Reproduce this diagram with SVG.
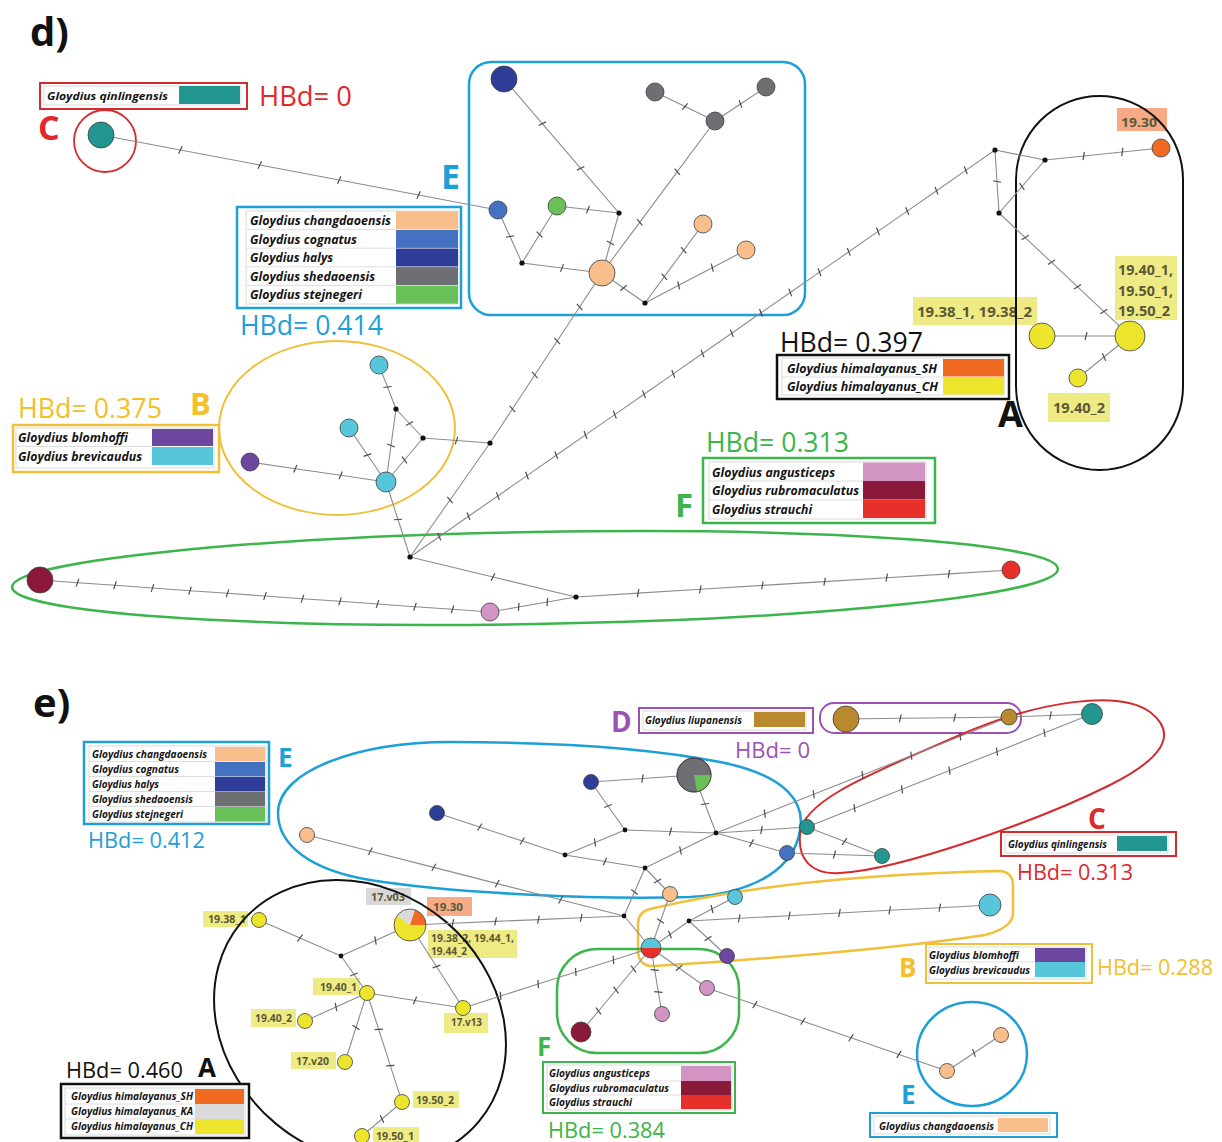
<svg xmlns="http://www.w3.org/2000/svg" width="1222" height="1142" viewBox="0 0 1222 1142">
<defs>
<marker id="tick" viewBox="-5 -5 10 10" markerWidth="10" markerHeight="10" refX="0" refY="0" orient="auto" markerUnits="userSpaceOnUse">
<line x1="-1" y1="4" x2="1" y2="-4" stroke="#4d4d4d" stroke-width="1.2"/>
</marker>
</defs>
<style>
.ed{fill:none;stroke:#8c8c8c;stroke-width:1.1;marker-mid:url(#tick)}
.md{fill:#111}
.nd{stroke:#3d3d3d;stroke-width:0.8}
.cl{fill:none}
.lb{fill:#fff}
.tb{fill:#fff;stroke:#cfcfcf;stroke-width:0.8}
.sep{stroke:#d6d6d6;stroke-width:0.8}
.lg{font-family:"Open Sans","Liberation Sans",sans-serif;font-weight:700;font-style:italic;fill:#141414}
.hb{font-family:"Open Sans","Liberation Sans",sans-serif;font-weight:400}
.lt{font-family:"Open Sans","Liberation Sans",sans-serif;font-weight:700}
.tg{font-family:"Open Sans","Liberation Sans",sans-serif;font-weight:700;fill:#5b5836}
.ty{fill:#efeb84}
.to{fill:#f6ab86}
.tgr{fill:#d8d8d8}
.c-teal{fill:#22968f}.c-peach{fill:#f8bf8d}.c-cog{fill:#4571c1}.c-hal{fill:#2e3d98}.c-gray{fill:#6e6f73}.c-ste{fill:#69bf58}.c-cyan{fill:#58c6da}.c-pur{fill:#6b47a0}.c-pink{fill:#d295c3}.c-dred{fill:#8b1a3a}.c-red{fill:#e8302a}.c-org{fill:#f06a21}.c-yel{fill:#ece52b}.c-gold{fill:#b8892d}.c-ka{fill:#dadada}
.k-red{stroke:#d42b2f}.k-blue{stroke:#1d9fd8}.k-gold{stroke:#f0c03a}.k-green{stroke:#3cb54a}.k-blk{stroke:#111}.k-pur{stroke:#9b52b4}
.f-red{fill:#e0282d}.f-blue{fill:#1d9fd8}.f-gold{fill:#f3bf2a}.f-green{fill:#3cb54a}.f-blk{fill:#111}.f-pur{fill:#9b52b4}
</style>
<rect width="1222" height="1142" fill="#fff"/>

<!-- ============ number tags ============ -->
<g id="tags">
<rect x="1117" y="108" width="50" height="23" class="to"/>
<text x="1121" y="127" class="tg" font-size="13" textLength="36" lengthAdjust="spacingAndGlyphs">19.30</text>
<rect x="1115" y="256" width="62" height="64" class="ty"/>
<text x="1118" y="275" class="tg" font-size="13.5" textLength="55" lengthAdjust="spacingAndGlyphs">19.40_1,</text>
<text x="1118" y="296" class="tg" font-size="13.5" textLength="55" lengthAdjust="spacingAndGlyphs">19.50_1,</text>
<text x="1118" y="316" class="tg" font-size="13.5" textLength="52" lengthAdjust="spacingAndGlyphs">19.50_2</text>
<rect x="913" y="297" width="124" height="28" class="ty"/>
<text x="917" y="317" class="tg" font-size="13.5" textLength="115" lengthAdjust="spacingAndGlyphs">19.38_1, 19.38_2</text>
<rect x="1048" y="393" width="62" height="29" class="ty"/>
<text x="1053" y="413" class="tg" font-size="13.5" textLength="52" lengthAdjust="spacingAndGlyphs">19.40_2</text>

<rect x="366" y="888" width="45" height="17" class="tgr"/>
<text x="371" y="901" class="tg" font-size="10.5" textLength="34" lengthAdjust="spacingAndGlyphs">17.v03</text>
<rect x="427" y="897" width="45" height="19" class="to"/>
<text x="433" y="911" class="tg" font-size="10.5" textLength="30" lengthAdjust="spacingAndGlyphs">19.30</text>
<rect x="428" y="930" width="89" height="28" class="ty"/>
<text x="431" y="942" class="tg" font-size="10.5" textLength="83" lengthAdjust="spacingAndGlyphs">19.38_2, 19.44_1,</text>
<text x="431" y="955" class="tg" font-size="10.5" textLength="36" lengthAdjust="spacingAndGlyphs">19.44_2</text>
<rect x="203" y="911" width="45" height="16" class="ty"/>
<text x="208" y="923" class="tg" font-size="10.5" textLength="38" lengthAdjust="spacingAndGlyphs">19.38_1</text>
<rect x="313" y="978" width="47" height="17" class="ty"/>
<text x="320" y="991" class="tg" font-size="10.5" textLength="37" lengthAdjust="spacingAndGlyphs">19.40_1</text>
<rect x="251" y="1009" width="45" height="18" class="ty"/>
<text x="255" y="1022" class="tg" font-size="10.5" textLength="37" lengthAdjust="spacingAndGlyphs">19.40_2</text>
<rect x="444" y="1013" width="44" height="20" class="ty"/>
<text x="451" y="1026" class="tg" font-size="10.5" textLength="31" lengthAdjust="spacingAndGlyphs">17.v13</text>
<rect x="291" y="1052" width="45" height="17" class="ty"/>
<text x="296" y="1065" class="tg" font-size="10.5" textLength="33" lengthAdjust="spacingAndGlyphs">17.v20</text>
<rect x="413" y="1091" width="46" height="17" class="ty"/>
<text x="416" y="1104" class="tg" font-size="10.5" textLength="38" lengthAdjust="spacingAndGlyphs">19.50_2</text>
<rect x="373" y="1127" width="46" height="15" class="ty"/>
<text x="376" y="1140" class="tg" font-size="10.5" textLength="38" lengthAdjust="spacingAndGlyphs">19.50_1</text>
</g>

<!-- ============ cluster outlines ============ -->
<g id="clusters" class="cl">
<circle id="d-C-outline" cx="105" cy="141" r="31" class="k-red" stroke-width="1.8" fill="none"/>
<rect id="d-E-outline" x="469" y="62" width="336" height="253" rx="22" class="k-blue" stroke-width="2.5" fill="none"/>
<rect id="d-A-outline" x="1016" y="96" width="167" height="374" rx="83.5" class="k-blk" stroke-width="2" fill="none"/>
<ellipse id="d-B-outline" cx="337" cy="428" rx="118" ry="87" class="k-gold" stroke-width="2" fill="none"/>
<ellipse id="d-F-outline" cx="535" cy="578" rx="523" ry="46" transform="rotate(-1 535 578)" class="k-green" stroke-width="2.5" fill="none"/>

<path id="e-E-outline" d="M278,813 C278,770 360,742 450,742 C560,742 650,748 720,762 C790,776 805,805 800,830 C795,865 760,893 690,897 C600,900 450,893 370,880 C310,870 278,845 278,813 Z" class="k-blue" stroke-width="2.5" fill="none"/>
<rect id="e-D-outline" x="820" y="703" width="201" height="30" rx="14" class="k-pur" stroke-width="2" fill="none"/>
<path id="e-C-outline" d="M800,835 C800,800 880,770 960,735 C1040,700 1120,690 1150,712 C1180,735 1160,760 1110,785 C1040,820 900,870 840,873 C810,875 798,858 800,835 Z" class="k-red" stroke-width="2" fill="none"/>
<path id="e-B-outline" d="M650,909 C720,893 820,875 998,871 Q1013,871 1013,886 L1013,914 Q1012,928 985,935 C900,948 780,958 655,966 Q638,967 638,950 L638,924 Q638,912 650,909 Z" class="k-gold" stroke-width="2.5" fill="none"/>
<rect id="e-F-outline" x="557" y="949" width="182" height="104" rx="40" class="k-green" stroke-width="2.5" fill="none"/>
<ellipse id="e-A-outline" cx="360" cy="1022" rx="155" ry="132" transform="rotate(40 360 1022)" class="k-blk" stroke-width="2" fill="none"/>
<ellipse id="e-E2-outline" cx="972" cy="1054" rx="55" ry="52" class="k-blue" stroke-width="2.5" fill="none"/>
</g>

<!-- ============ connectors ============ -->
<g id="connectors">
<polyline class="ed" points="101,135 180.4,150 259.8,165 339.2,180 418.6,195 498,210"/>
<polyline class="ed" points="504,79 542.3,123.7 580.7,168.3 619,213"/>
<polyline class="ed" points="557,206 588,209.5 619,213"/>
<polyline class="ed" points="619,213 610.5,243 602,273"/>
<polyline class="ed" points="498,210 510,236.5 522,263"/>
<polyline class="ed" points="557,206 539.5,234.5 522,263"/>
<polyline class="ed" points="522,263 562,268 602,273"/>
<polyline class="ed" points="602,273 639.7,222.3 677.3,171.7 715,121"/>
<polyline class="ed" points="715,121 685,106.5 655,92"/>
<polyline class="ed" points="715,121 740.5,104 766,87"/>
<polyline class="ed" points="602,273 623.5,288 645,303"/>
<polyline class="ed" points="645,303 664.3,276.7 683.7,250.3 703,224"/>
<polyline class="ed" points="645,303 678.7,285.3 712.3,267.7 746,250"/>
<polyline class="ed" points="602,273 579.6,307 557.2,341 534.8,375 512.4,409 490,443"/>
<polyline class="ed" points="490,443 450,500 410,557"/>
<polyline class="ed" points="410,557 439.3,536.7 468.5,516.3 497.8,496 527,475.6 556.3,455.3 585.5,434.9 614.8,414.6 644,394.2 673.3,373.9 702.5,353.5 731.8,333.2 761,312.8 790.3,292.5 819.5,272.1 848.8,251.8 878,231.4 907.3,211.1 936.5,190.7 965.8,170.4 995,150"/>
<polyline class="ed" points="995,150 1020,155 1045,160"/>
<polyline class="ed" points="995,150 997,181.5 999,213"/>
<polyline class="ed" points="1045,160 1022,186.5 999,213"/>
<polyline class="ed" points="1045,160 1083.7,156 1122.3,152 1161,148"/>
<polyline class="ed" points="999,213 1025.2,237.6 1051.4,262.2 1077.6,286.8 1103.8,311.4 1130,336"/>
<polyline class="ed" points="1042,336 1086,336 1130,336"/>
<polyline class="ed" points="1078,378 1104,357 1130,336"/>
<polyline class="ed" points="379,365 387.5,387 396,409"/>
<polyline class="ed" points="396,409 409.5,423.5 423,438"/>
<polyline class="ed" points="396,409 391,445.5 386,482"/>
<polyline class="ed" points="423,438 404.5,460 386,482"/>
<polyline class="ed" points="349,428 367.5,455 386,482"/>
<polyline class="ed" points="250,462 295.3,468.7 340.7,475.3 386,482"/>
<polyline class="ed" points="423,438 456.5,440.5 490,443"/>
<polyline class="ed" points="386,482 398,519.5 410,557"/>
<polyline class="ed" points="40,580 77.5,582.7 115,585.3 152.5,588 190,590.7 227.5,593.3 265,596 302.5,598.7 340,601.3 377.5,604 415,606.7 452.5,609.3 490,612"/>
<polyline class="ed" points="490,612 518.7,607 547.3,602 576,597"/>
<polyline class="ed" points="410,557 493,577 576,597"/>
<polyline class="ed" points="576,597 638.1,593.1 700.3,589.3 762.4,585.4 824.6,581.6 886.7,577.7 948.9,573.9 1011,570"/>

<polyline class="ed" points="591,782 642.5,778.5 694,775"/>
<polyline class="ed" points="591,782 608,806 625,830"/>
<polyline class="ed" points="694,775 705,804 716,833"/>
<polyline class="ed" points="625,830 670.5,831.5 716,833"/>
<polyline class="ed" points="625,830 595,842.5 565,855"/>
<polyline class="ed" points="437,813 479.7,827 522.3,841 565,855"/>
<polyline class="ed" points="565,855 605,861.5 645,868"/>
<polyline class="ed" points="645,868 680.5,850.5 716,833"/>
<polyline class="ed" points="716,833 761.5,830 807,827"/>
<polyline class="ed" points="716,833 751.5,843 787,853"/>
<polyline class="ed" points="716,833 764.8,813.7 813.7,794.3 862.5,775 911.3,755.7 960.2,736.3 1009,717"/>
<polyline class="ed" points="846,719 900.3,718.3 954.7,717.7 1009,717"/>
<polyline class="ed" points="1009,717 1050.5,715.5 1092,714"/>
<polyline class="ed" points="807,827 854.5,808.2 902,789.3 949.5,770.5 997,751.7 1044.5,732.8 1092,714"/>
<polyline class="ed" points="807,827 844.5,841.5 882,856"/>
<polyline class="ed" points="787,853 834.5,854.5 882,856"/>
<polyline class="ed" points="645,868 657.5,881 670,894"/>
<polyline class="ed" points="645,868 634.5,892 624,916"/>
<polyline class="ed" points="624,916 651,948"/>
<polyline class="ed" points="410,925 452.8,923.2 495.6,921.4 538.4,919.6 581.2,917.8 624,916"/>
<polyline class="ed" points="307,835 370.4,851.2 433.8,867.4 497.2,883.6 560.6,899.8 624,916"/>
<polyline class="ed" points="670,894 660.5,921 651,948"/>
<polyline class="ed" points="689,921 670,934.5 651,948"/>
<polyline class="ed" points="689,921 712,909 735,897"/>
<polyline class="ed" points="689,921 708,938.5 727,956"/>
<polyline class="ed" points="689,921 739.2,918.3 789.3,915.7 839.5,913 889.7,910.3 939.8,907.7 990,905"/>
<polyline class="ed" points="651,948 679,968 707,988"/>
<polyline class="ed" points="651,948 654.7,970 658.3,992 662,1014"/>
<polyline class="ed" points="651,948 633.5,969 616,990 598.5,1011 581,1032"/>
<polyline class="ed" points="463,1008 500.6,996 538.2,984 575.8,972 613.4,960 651,948"/>
<polyline class="ed" points="707,988 755,1004.6 803,1021.2 851,1037.8 899,1054.4 947,1071"/>
<polyline class="ed" points="947,1071 974,1053 1001,1035"/>
<polyline class="ed" points="259,920 300,938 341,956"/>
<polyline class="ed" points="410,925 375.5,940.5 341,956"/>
<polyline class="ed" points="341,956 354,974.5 367,993"/>
<polyline class="ed" points="410,925 436.5,966.5 463,1008"/>
<polyline class="ed" points="367,993 415,1000.5 463,1008"/>
<polyline class="ed" points="367,993 336,1007 305,1021"/>
<polyline class="ed" points="367,993 356,1027.5 345,1062"/>
<polyline class="ed" points="367,993 378.7,1029.3 390.3,1065.7 402,1102"/>
<polyline class="ed" points="402,1102 382,1119 362,1136"/>
</g>

<!-- ============ median vectors ============ -->
<g id="medians" class="md">
<circle cx="619" cy="213" r="2.6"/><circle cx="522" cy="263" r="2.6"/><circle cx="645" cy="303" r="2.6"/>
<circle cx="396" cy="409" r="2.6"/><circle cx="423" cy="438" r="2.6"/><circle cx="490" cy="443" r="2.6"/>
<circle cx="410" cy="557" r="2.6"/><circle cx="576" cy="597" r="2.6"/>
<circle cx="995" cy="150" r="2.6"/><circle cx="1045" cy="160" r="2.6"/><circle cx="999" cy="213" r="2.6"/>
<circle cx="625" cy="830" r="2.4"/><circle cx="716" cy="833" r="2.4"/><circle cx="565" cy="855" r="2.4"/>
<circle cx="645" cy="868" r="2.4"/><circle cx="624" cy="916" r="2.4"/><circle cx="689" cy="921" r="2.4"/>
<circle cx="341" cy="956" r="2.4"/>
</g>

<!-- ============ haplotype nodes (d) ============ -->
<g id="d-nodes">
<g id="d-qinlingensis"><circle cx="101" cy="135" r="13" class="nd c-teal"/></g>
<g id="d-halys"><circle cx="504" cy="79" r="13" class="nd c-hal"/></g>
<g id="d-shedao-1"><circle cx="655" cy="92" r="9" class="nd c-gray"/></g>
<g id="d-shedao-2"><circle cx="766" cy="87" r="9" class="nd c-gray"/></g>
<g id="d-shedao-3"><circle cx="715" cy="121" r="9" class="nd c-gray"/></g>
<g id="d-cognatus"><circle cx="498" cy="210" r="9" class="nd c-cog"/></g>
<g id="d-stejnegeri"><circle cx="557" cy="206" r="9" class="nd c-ste"/></g>
<g id="d-changdao-1"><circle cx="602" cy="273" r="13" class="nd c-peach"/></g>
<g id="d-changdao-2"><circle cx="703" cy="224" r="9" class="nd c-peach"/></g>
<g id="d-changdao-3"><circle cx="746" cy="250" r="9" class="nd c-peach"/></g>
<g id="d-SH-1930"><circle cx="1161" cy="148" r="9" class="nd c-org"/></g>
<g id="d-CH-1940-1"><circle cx="1130" cy="336" r="15" class="nd c-yel"/></g>
<g id="d-CH-1938"><circle cx="1042" cy="336" r="13" class="nd c-yel"/></g>
<g id="d-CH-1940-2"><circle cx="1078" cy="378" r="9" class="nd c-yel"/></g>
<g id="d-brevi-1"><circle cx="379" cy="365" r="9" class="nd c-cyan"/></g>
<g id="d-brevi-2"><circle cx="349" cy="428" r="9" class="nd c-cyan"/></g>
<g id="d-brevi-3"><circle cx="386" cy="482" r="10" class="nd c-cyan"/></g>
<g id="d-blomhoffi"><circle cx="250" cy="462" r="9" class="nd c-pur"/></g>
<g id="d-rubromaculatus"><circle cx="40" cy="580" r="13" class="nd c-dred"/></g>
<g id="d-angusticeps"><circle cx="490" cy="612" r="9" class="nd c-pink"/></g>
<g id="d-strauchi"><circle cx="1011" cy="570" r="9" class="nd c-red"/></g>
</g>

<!-- ============ haplotype nodes (e) ============ -->
<g id="e-nodes">
<g id="e-halys-1"><circle cx="591" cy="782" r="7.5" class="nd c-hal"/></g>
<g id="e-halys-2"><circle cx="437" cy="813" r="7.5" class="nd c-hal"/></g>
<g id="e-shedao-pie">
<circle cx="694" cy="775" r="17" class="nd c-gray"/>
<path d="M694,775 L711,775 A17,17 0 0,1 696.95,791.74 Z" class="c-ste"/>
<circle cx="694" cy="775" r="17" fill="none" class="nd"/>
</g>
<g id="e-changdao-1"><circle cx="307" cy="835" r="7.5" class="nd c-peach"/></g>
<g id="e-qinling-1"><circle cx="807" cy="827" r="7.5" class="nd c-teal"/></g>
<g id="e-cognatus"><circle cx="787" cy="853" r="7.5" class="nd c-cog"/></g>
<g id="e-qinling-2"><circle cx="882" cy="856" r="7.5" class="nd c-teal"/></g>
<g id="e-qinling-3"><circle cx="1092" cy="714" r="10.5" class="nd c-teal"/></g>
<g id="e-liupan-1"><circle cx="846" cy="719" r="13" class="nd c-gold"/></g>
<g id="e-liupan-2"><circle cx="1009" cy="717" r="8" class="nd c-gold"/></g>
<g id="e-changdao-2"><circle cx="670" cy="894" r="7.5" class="nd c-peach"/></g>
<g id="e-brevi-1"><circle cx="735" cy="897" r="7.5" class="nd c-cyan"/></g>
<g id="e-pie-F">
<path d="M641,948 A10,10 0 0,1 661,948 Z" class="c-cyan"/>
<path d="M641,948 A10,10 0 0,0 661,948 Z" class="c-red"/>
<circle cx="651" cy="948" r="10" fill="none" class="nd"/>
</g>
<g id="e-blomhoffi"><circle cx="727" cy="956" r="7.5" class="nd c-pur"/></g>
<g id="e-angusti-1"><circle cx="707" cy="988" r="7.5" class="nd c-pink"/></g>
<g id="e-angusti-2"><circle cx="662" cy="1014" r="7.5" class="nd c-pink"/></g>
<g id="e-rubromaculatus"><circle cx="581" cy="1032" r="10" class="nd c-dred"/></g>
<g id="e-brevi-2"><circle cx="990" cy="905" r="11" class="nd c-cyan"/></g>
<g id="e-changdao-3"><circle cx="947" cy="1071" r="7.5" class="nd c-peach"/></g>
<g id="e-changdao-4"><circle cx="1001" cy="1035" r="7.5" class="nd c-peach"/></g>
<g id="e-pie-A">
<path d="M410,925 L426,925 A16,16 0 1,1 397.06,915.6 Z" class="c-yel"/>
<path d="M410,925 L397.06,915.6 A16,16 0 0,1 414.94,909.78 Z" class="c-ka"/>
<path d="M410,925 L414.94,909.78 A16,16 0 0,1 426,925 Z" class="c-org"/>
<circle cx="410" cy="925" r="16" fill="none" class="nd"/>
</g>
<g id="e-1938-1"><circle cx="259" cy="920" r="7.5" class="nd c-yel"/></g>
<g id="e-1940-1"><circle cx="367" cy="993" r="7.5" class="nd c-yel"/></g>
<g id="e-1940-2"><circle cx="305" cy="1021" r="7.5" class="nd c-yel"/></g>
<g id="e-17v13"><circle cx="463" cy="1008" r="7.5" class="nd c-yel"/></g>
<g id="e-17v20"><circle cx="345" cy="1062" r="7.5" class="nd c-yel"/></g>
<g id="e-1950-2"><circle cx="402" cy="1102" r="7.5" class="nd c-yel"/></g>
<g id="e-1950-1"><circle cx="362" cy="1136" r="7.5" class="nd c-yel"/></g>
</g>

<!-- ============ panel labels & HBd ============ -->
<g id="labels">
<text x="30" y="46" class="lt f-blk" font-size="40">d)</text>
<text x="33" y="717" class="lt f-blk" font-size="40">e)</text>

<text x="38" y="140" class="lt f-red" font-size="34">C</text>
<text x="259" y="106" class="hb f-red" font-size="27" textLength="93" lengthAdjust="spacingAndGlyphs">HBd= 0</text>
<text x="441" y="189" class="lt f-blue" font-size="34">E</text>
<text x="240" y="335" class="hb f-blue" font-size="27" textLength="143" lengthAdjust="spacingAndGlyphs">HBd= 0.414</text>
<text x="780" y="352" class="hb f-blk" font-size="27" textLength="143" lengthAdjust="spacingAndGlyphs">HBd= 0.397</text>
<text x="998" y="427" class="lt f-blk" font-size="36">A</text>
<text x="18" y="418" class="hb f-gold" font-size="27" textLength="144" lengthAdjust="spacingAndGlyphs">HBd= 0.375</text>
<text x="190" y="415" class="lt f-gold" font-size="31">B</text>
<text x="706" y="452" class="hb f-green" font-size="27" textLength="143" lengthAdjust="spacingAndGlyphs">HBd= 0.313</text>
<text x="675" y="517" class="lt f-green" font-size="33">F</text>

<text x="278" y="767" class="lt f-blue" font-size="26">E</text>
<text x="88" y="848" class="hb f-blue" font-size="22" textLength="117" lengthAdjust="spacingAndGlyphs">HBd= 0.412</text>
<text x="611" y="732" class="lt f-pur" font-size="28">D</text>
<text x="735" y="758" class="hb f-pur" font-size="22" textLength="75" lengthAdjust="spacingAndGlyphs">HBd= 0</text>
<text x="1088" y="829" class="lt f-red" font-size="28">C</text>
<text x="1017" y="880" class="hb f-red" font-size="22" textLength="116" lengthAdjust="spacingAndGlyphs">HBd= 0.313</text>
<text x="899" y="977" class="lt f-gold" font-size="26">B</text>
<text x="1097" y="975" class="hb f-gold" font-size="22" textLength="116" lengthAdjust="spacingAndGlyphs">HBd= 0.288</text>
<text x="537" y="1056" class="lt f-green" font-size="26">F</text>
<text x="548" y="1138" class="hb f-green" font-size="22" textLength="117" lengthAdjust="spacingAndGlyphs">HBd= 0.384</text>
<text x="198" y="1077" class="lt f-blk" font-size="26">A</text>
<text x="66" y="1078" class="hb f-blk" font-size="22" textLength="117" lengthAdjust="spacingAndGlyphs">HBd= 0.460</text>
<text x="901" y="1104" class="lt f-blue" font-size="26">E</text>
</g>

<!-- ============ legends (d) ============ -->
<g id="legend-d-C">
<rect x="40" y="83" width="207" height="26" class="lb k-red" stroke-width="2"/>
<rect x="44" y="86" width="197" height="19" class="tb"/>
<rect x="179" y="86" width="61" height="18" class="c-teal"/>
<text x="47" y="100" class="lg" font-size="11" textLength="121" lengthAdjust="spacingAndGlyphs">Gloydius qinlingensis</text>
</g>
<g id="legend-d-E">
<rect x="237" y="207" width="224" height="101" class="lb k-blue" stroke-width="2.5"/>
<rect x="246" y="211" width="212" height="93" class="tb"/>
<line x1="246" y1="229.6" x2="396" y2="229.6" class="sep"/><line x1="246" y1="248.2" x2="396" y2="248.2" class="sep"/><line x1="246" y1="266.8" x2="396" y2="266.8" class="sep"/><line x1="246" y1="285.4" x2="396" y2="285.4" class="sep"/>
<rect x="396" y="211.3" width="62" height="18" class="c-peach"/>
<rect x="396" y="229.9" width="62" height="18" class="c-cog"/>
<rect x="396" y="248.5" width="62" height="18" class="c-hal"/>
<rect x="396" y="267.1" width="62" height="18" class="c-gray"/>
<rect x="396" y="285.7" width="62" height="18" class="c-ste"/>
<text x="250" y="225" class="lg" font-size="12" textLength="141" lengthAdjust="spacingAndGlyphs">Gloydius changdaoensis</text>
<text x="250" y="243.6" class="lg" font-size="12" textLength="107" lengthAdjust="spacingAndGlyphs">Gloydius cognatus</text>
<text x="250" y="262.2" class="lg" font-size="12" textLength="83" lengthAdjust="spacingAndGlyphs">Gloydius halys</text>
<text x="250" y="280.8" class="lg" font-size="12" textLength="125" lengthAdjust="spacingAndGlyphs">Gloydius shedaoensis</text>
<text x="250" y="299.4" class="lg" font-size="12" textLength="112" lengthAdjust="spacingAndGlyphs">Gloydius stejnegeri</text>
</g>
<g id="legend-d-A">
<rect x="777" y="355" width="232" height="44" class="lb k-blk" stroke-width="2.5"/>
<rect x="782" y="358" width="222" height="37" class="tb"/>
<line x1="782" y1="377" x2="943" y2="377" class="sep"/>
<rect x="943" y="359" width="61" height="17.5" class="c-org"/>
<rect x="943" y="377" width="61" height="17.5" class="c-yel"/>
<text x="787" y="373" class="lg" font-size="11.5" textLength="150" lengthAdjust="spacingAndGlyphs">Gloydius himalayanus_SH</text>
<text x="787" y="391" class="lg" font-size="11.5" textLength="151" lengthAdjust="spacingAndGlyphs">Gloydius himalayanus_CH</text>
</g>
<g id="legend-d-B">
<rect x="13" y="425" width="206" height="47" class="lb k-gold" stroke-width="2.5"/>
<rect x="16" y="428" width="198" height="40" class="tb"/>
<line x1="16" y1="446.5" x2="152" y2="446.5" class="sep"/>
<rect x="152" y="429" width="61" height="17" class="c-pur"/>
<rect x="152" y="447" width="61" height="18" class="c-cyan"/>
<text x="18" y="442" class="lg" font-size="11.5" textLength="110" lengthAdjust="spacingAndGlyphs">Gloydius blomhoffi</text>
<text x="18" y="461" class="lg" font-size="11.5" textLength="124" lengthAdjust="spacingAndGlyphs">Gloydius brevicaudus</text>
</g>
<g id="legend-d-F">
<rect x="703" y="458" width="232" height="65" class="lb k-green" stroke-width="2.5"/>
<rect x="709" y="462" width="217" height="57" class="tb"/>
<line x1="709" y1="481" x2="863" y2="481" class="sep"/><line x1="709" y1="500" x2="863" y2="500" class="sep"/>
<rect x="863" y="462.5" width="62" height="18.5" class="c-pink"/>
<rect x="863" y="481" width="62" height="18.5" class="c-dred"/>
<rect x="863" y="499.5" width="62" height="18.5" class="c-red"/>
<text x="712" y="477" class="lg" font-size="11.5" textLength="123" lengthAdjust="spacingAndGlyphs">Gloydius angusticeps</text>
<text x="712" y="495" class="lg" font-size="11.5" textLength="147" lengthAdjust="spacingAndGlyphs">Gloydius rubromaculatus</text>
<text x="712" y="514" class="lg" font-size="11.5" textLength="100" lengthAdjust="spacingAndGlyphs">Gloydius strauchi</text>
</g>

<!-- ============ legends (e) ============ -->
<g id="legend-e-E">
<rect x="84" y="742" width="185" height="82" class="lb k-blue" stroke-width="2.5"/>
<rect x="89" y="746" width="177" height="76" class="tb"/>
<line x1="89" y1="761.5" x2="215" y2="761.5" class="sep"/><line x1="89" y1="776.5" x2="215" y2="776.5" class="sep"/><line x1="89" y1="791.5" x2="215" y2="791.5" class="sep"/><line x1="89" y1="806.5" x2="215" y2="806.5" class="sep"/>
<rect x="215" y="747" width="50" height="14.5" class="c-peach"/>
<rect x="215" y="762" width="50" height="14.5" class="c-cog"/>
<rect x="215" y="777" width="50" height="14.5" class="c-hal"/>
<rect x="215" y="792" width="50" height="14.5" class="c-gray"/>
<rect x="215" y="807" width="50" height="14.5" class="c-ste"/>
<text x="92" y="758" class="lg" font-size="10" textLength="115" lengthAdjust="spacingAndGlyphs">Gloydius changdaoensis</text>
<text x="92" y="773" class="lg" font-size="10" textLength="87" lengthAdjust="spacingAndGlyphs">Gloydius cognatus</text>
<text x="92" y="788" class="lg" font-size="10" textLength="67" lengthAdjust="spacingAndGlyphs">Gloydius halys</text>
<text x="92" y="803" class="lg" font-size="10" textLength="101" lengthAdjust="spacingAndGlyphs">Gloydius shedaoensis</text>
<text x="92" y="818" class="lg" font-size="10" textLength="91" lengthAdjust="spacingAndGlyphs">Gloydius stejnegeri</text>
</g>
<g id="legend-e-D">
<rect x="639" y="708" width="174" height="25" class="lb k-pur" stroke-width="2"/>
<rect x="643" y="711" width="163" height="19" class="tb"/>
<rect x="754" y="712" width="51" height="15" class="c-gold"/>
<text x="645" y="724" class="lg" font-size="10" textLength="97" lengthAdjust="spacingAndGlyphs">Gloydius liupanensis</text>
</g>
<g id="legend-e-C">
<rect x="1001" y="832" width="175" height="24" class="lb k-red" stroke-width="2"/>
<rect x="1005" y="835" width="163" height="18" class="tb"/>
<rect x="1117" y="836" width="50" height="15" class="c-teal"/>
<text x="1008" y="848" class="lg" font-size="10" textLength="99" lengthAdjust="spacingAndGlyphs">Gloydius qinlingensis</text>
</g>
<g id="legend-e-B">
<rect x="926" y="944" width="166" height="39" class="lb k-gold" stroke-width="2"/>
<rect x="929" y="947" width="157" height="32" class="tb"/>
<line x1="929" y1="962" x2="1035" y2="962" class="sep"/>
<rect x="1035" y="948" width="50" height="14" class="c-pur"/>
<rect x="1035" y="962" width="50" height="15" class="c-cyan"/>
<text x="929" y="959" class="lg" font-size="10" textLength="90" lengthAdjust="spacingAndGlyphs">Gloydius blomhoffi</text>
<text x="929" y="974" class="lg" font-size="10" textLength="101" lengthAdjust="spacingAndGlyphs">Gloydius brevicaudus</text>
</g>
<g id="legend-e-F">
<rect x="543" y="1062" width="192" height="51" class="lb k-green" stroke-width="2"/>
<rect x="547" y="1065" width="185" height="45" class="tb"/>
<line x1="547" y1="1081" x2="681" y2="1081" class="sep"/><line x1="547" y1="1095" x2="681" y2="1095" class="sep"/>
<rect x="681" y="1066" width="50" height="15" class="c-pink"/>
<rect x="681" y="1081" width="50" height="14" class="c-dred"/>
<rect x="681" y="1095" width="50" height="14" class="c-red"/>
<text x="549" y="1077" class="lg" font-size="10" textLength="101" lengthAdjust="spacingAndGlyphs">Gloydius angusticeps</text>
<text x="549" y="1092" class="lg" font-size="10" textLength="120" lengthAdjust="spacingAndGlyphs">Gloydius rubromaculatus</text>
<text x="549" y="1106" class="lg" font-size="10" textLength="83" lengthAdjust="spacingAndGlyphs">Gloydius strauchi</text>
</g>
<g id="legend-e-A">
<rect x="61" y="1084" width="188" height="54" class="lb k-blk" stroke-width="2.5"/>
<rect x="65" y="1088" width="180" height="47" class="tb"/>
<line x1="65" y1="1104" x2="195" y2="1104" class="sep"/><line x1="65" y1="1119" x2="195" y2="1119" class="sep"/>
<rect x="195" y="1089" width="49" height="15" class="c-org"/>
<rect x="195" y="1104" width="49" height="15" class="c-ka"/>
<rect x="195" y="1119" width="49" height="15" class="c-yel"/>
<text x="71" y="1100" class="lg" font-size="10.5" textLength="122" lengthAdjust="spacingAndGlyphs">Gloydius himalayanus_SH</text>
<text x="71" y="1115" class="lg" font-size="10.5" textLength="122" lengthAdjust="spacingAndGlyphs">Gloydius himalayanus_KA</text>
<text x="71" y="1130" class="lg" font-size="10.5" textLength="122" lengthAdjust="spacingAndGlyphs">Gloydius himalayanus_CH</text>
</g>
<g id="legend-e-E2">
<rect x="870" y="1113" width="187" height="24" class="lb k-blue" stroke-width="2"/>
<rect x="874" y="1116" width="176" height="18" class="tb"/>
<rect x="998" y="1118" width="50" height="14" class="c-peach"/>
<text x="879" y="1130" class="lg" font-size="10" textLength="115" lengthAdjust="spacingAndGlyphs">Gloydius changdaoensis</text>
</g>
</svg>
